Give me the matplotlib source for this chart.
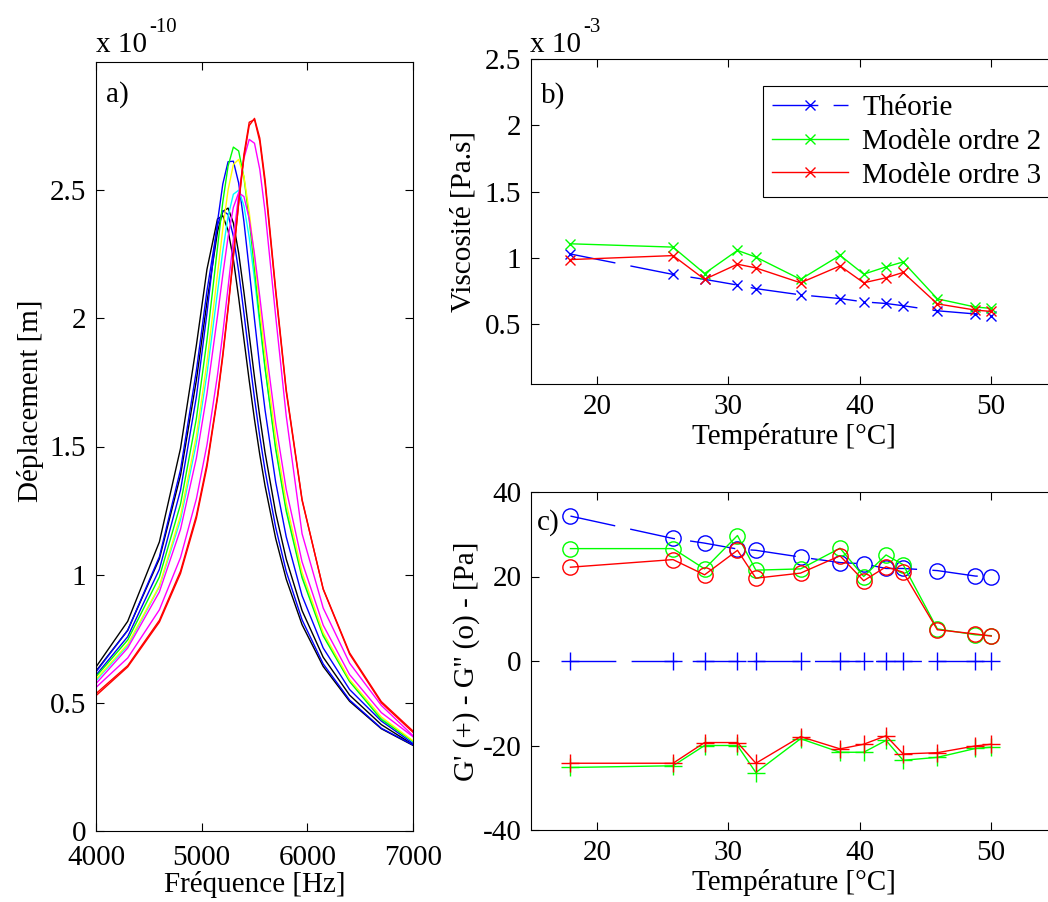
import matplotlib
matplotlib.use('Agg')
import matplotlib.pyplot as plt

plt.rcParams['font.family'] = ['Liberation Serif', 'DejaVu Serif']
plt.rcParams['axes.linewidth'] = 0.8
plt.rcParams['axes.unicode_minus'] = False

# a) resonance curves, displacement in 1e-10 m
freq = [4000, 4300, 4600, 4800, 4950, 5050, 5150, 5200, 5250, 5300, 5350, 5400,
        5450, 5500, 5550, 5600, 5700, 5800, 5950, 6150, 6400, 6700, 7000]
disp_k1 = [0.624, 0.783, 1.062, 1.388, 1.759, 2.063, 2.338, 2.417, 2.430, 2.372, 2.255, 2.102,
           1.935, 1.770, 1.616, 1.476, 1.242, 1.061, 0.860, 0.678, 0.530, 0.415, 0.337]
disp_k2 = [0.640, 0.818, 1.128, 1.493, 1.895, 2.191, 2.388, 2.400, 2.343, 2.230, 2.081, 1.918,
           1.757, 1.605, 1.468, 1.346, 1.142, 0.983, 0.805, 0.642, 0.506, 0.399, 0.334]
disp_b1 = [0.608, 0.758, 1.021, 1.330, 1.694, 2.020, 2.377, 2.524, 2.611, 2.613, 2.528, 2.377,
           2.190, 1.996, 1.810, 1.642, 1.362, 1.148, 0.918, 0.714, 0.552, 0.429, 0.342]
disp_b2 = [0.621, 0.783, 1.070, 1.410, 1.796, 2.107, 2.364, 2.420, 2.405, 2.320, 2.183, 2.020,
           1.850, 1.688, 1.539, 1.406, 1.185, 1.013, 0.824, 0.652, 0.511, 0.401, 0.336]
disp_g = [0.602, 0.745, 0.991, 1.275, 1.609, 1.915, 2.277, 2.454, 2.594, 2.668, 2.653, 2.550,
          2.385, 2.191, 1.993, 1.807, 1.491, 1.248, 0.988, 0.761, 0.583, 0.435, 0.350]
disp_y = [0.592, 0.729, 0.956, 1.231, 1.542, 1.827, 2.173, 2.349, 2.501, 2.600, 2.620, 2.553,
          2.415, 2.235, 2.043, 1.856, 1.532, 1.280, 1.009, 0.774, 0.591, 0.445, 0.352]
disp_c = [0.587, 0.723, 0.953, 1.214, 1.514, 1.784, 2.103, 2.263, 2.398, 2.484, 2.500, 2.439,
          2.315, 2.153, 1.977, 1.804, 1.499, 1.258, 0.996, 0.766, 0.586, 0.440, 0.348]
disp_m2 = [0.575, 0.714, 0.933, 1.177, 1.455, 1.706, 2.010, 2.170, 2.318, 2.433, 2.490, 2.475,
           2.389, 2.250, 2.084, 1.910, 1.591, 1.333, 1.050, 0.803, 0.610, 0.462, 0.368]
disp_m1 = [0.560, 0.675, 0.863, 1.067, 1.296, 1.506, 1.779, 1.942, 2.121, 2.307, 2.483, 2.624,
           2.698, 2.683, 2.581, 2.417, 2.010, 1.620, 1.160, 0.870, 0.655, 0.490, 0.372]
disp_r1 = [0.536, 0.645, 0.822, 1.014, 1.231, 1.432, 1.698, 1.861, 2.044, 2.244, 2.447, 2.629,
           2.752, 2.780, 2.703, 2.541, 2.116, 1.723, 1.294, 0.943, 0.690, 0.500, 0.385]
disp_r2 = [0.528, 0.640, 0.815, 1.005, 1.220, 1.420, 1.690, 1.850, 2.035, 2.240, 2.450, 2.640,
           2.765, 2.775, 2.690, 2.525, 2.105, 1.715, 1.290, 0.945, 0.695, 0.505, 0.390]

curves = [(disp_k2, 'k'), (disp_k1, 'k'), (disp_b2, '#0000ff'), (disp_b1, '#0000ff'),
          (disp_c, '#00ffff'), (disp_g, '#00ff00'), (disp_y, '#ffff00'),
          (disp_m2, '#ff00ff'), (disp_m1, '#ff00ff'), (disp_r2, '#ff0000'), (disp_r1, '#ff0000')]

# b) and c) versus temperature
temp = [18.0, 25.8, 28.2, 30.7, 32.1, 35.5, 38.5, 40.3, 42.0, 43.3, 45.9, 48.8, 50.0]
visc_theo = [1.030, 0.876, 0.839, 0.796, 0.769, 0.722, 0.694, 0.669, 0.657, 0.640, 0.602, 0.578, 0.565]
visc_o2 = [1.107, 1.082, 0.883, 1.057, 1.007, 0.839, 1.020, 0.878, 0.933, 0.970, 0.692, 0.630, 0.620]
visc_o3 = [0.988, 1.018, 0.839, 0.953, 0.925, 0.813, 0.940, 0.813, 0.851, 0.891, 0.654, 0.607, 0.597]

gp_theo = [34.3, 29.0, 27.9, 26.5, 26.2, 24.6, 23.3, 23.0, 21.9, 21.9, 21.4, 20.1, 20.0]
gp_o2 = [26.6, 26.6, 21.8, 29.7, 21.5, 21.8, 26.7, 20.0, 25.1, 22.8, 7.6, 6.2, 6.0]
gp_o3 = [22.2, 24.0, 20.4, 26.2, 19.6, 20.8, 24.9, 19.0, 22.3, 21.0, 7.4, 6.4, 5.9]
gpp_theo = [0, 0, 0, 0, 0, 0, 0, 0, 0, 0, 0, 0, 0]
gpp_o2 = [-25.2, -24.8, -20.0, -20.0, -26.4, -18.4, -21.6, -21.6, -18.8, -23.5, -22.8, -20.7, -20.4]
gpp_o3 = [-24.2, -24.2, -19.3, -19.3, -24.2, -17.9, -20.8, -19.7, -17.7, -22.0, -21.7, -20.1, -19.7]

W, H = 1048, 902
fs = 21
dash = (0, (33, 11))
blue, green, red = '#0000ff', '#00ff00', '#ff0000'

fig = plt.figure(figsize=(W / 100, H / 100), dpi=100)
axa = fig.add_axes([96 / W, (H - 831) / H, 317 / W, 769 / H])
axb = fig.add_axes([531 / W, (H - 384) / H, 526 / W, 325 / H])
axc = fig.add_axes([531 / W, (H - 830) / H, 526 / W, 338 / H])

for ax in (axa, axb, axc):
    ax.tick_params(direction='in', top=True, right=True, length=6, width=0.8,
                   labelsize=fs, pad=7)
axa.tick_params(axis='x', pad=10)

# panel a
for vals, col in curves:
    axa.plot(freq, vals, color=col, lw=1.0)
axa.set_xlim(4000, 7000)
axa.set_ylim(0, 3.0)
axa.set_xticks([4000, 5000, 6000, 7000])
axa.set_yticks([0, 0.5, 1, 1.5, 2, 2.5])
axa.set_yticklabels(['0', '0.5', '1', '1.5', '2', '2.5'])
axa.set_xlabel('Fréquence [Hz]', fontsize=fs, labelpad=0)
axa.set_ylabel('Déplacement [m]', fontsize=fs)
axa.yaxis.set_label_coords(-0.165, 0.56)
axa.text(0.03, 0.975, 'a)', transform=axa.transAxes, fontsize=fs, va='top')
fig.text(96 / W, 1 - 52 / H, 'x 10', fontsize=fs, va='baseline')
fig.text(149 / W, 1 - 32 / H, '-10', fontsize=15, va='baseline')

# panel b
axb.plot(temp, visc_theo, color=blue, marker='x', ms=7, lw=1.0, ls=dash, label='Théorie')
axb.plot(temp, visc_o2, color=green, marker='x', ms=7, lw=1.0, label='Modèle ordre 2')
axb.plot(temp, visc_o3, color=red, marker='x', ms=7, lw=1.0, label='Modèle ordre 3')
axb.set_xlim(15, 55)
axb.set_ylim(0.05, 2.5)
axb.set_xticks([20, 30, 40, 50])
axb.set_yticks([0.5, 1, 1.5, 2, 2.5])
axb.set_yticklabels(['0.5', '1', '1.5', '2', '2.5'])
axb.set_xlabel('Température [°C]', fontsize=fs, labelpad=2)
axb.set_ylabel('Viscosité [Pa.s]', fontsize=fs, labelpad=6)
axb.text(0.018, 0.93, 'b)', transform=axb.transAxes, fontsize=fs, va='top')
fig.text(530 / W, 1 - 52 / H, 'x 10', fontsize=fs, va='baseline')
fig.text(583 / W, 1 - 32 / H, '-3', fontsize=15, va='baseline')
leg = axb.legend(loc='upper left', bbox_to_anchor=(763 / W, 1 - 86 / H),
                 bbox_transform=fig.transFigure, fontsize=fs, frameon=True,
                 fancybox=False, edgecolor='black', framealpha=1,
                 handlelength=2.6, handletextpad=0.5, borderpad=0.3,
                 labelspacing=0.25, borderaxespad=0)
leg.get_frame().set_linewidth(0.8)

# panel c
axc.plot(temp, gp_theo, color=blue, marker='o', ms=11, mfc='none', lw=1.0, ls=dash)
axc.plot(temp, gp_o2, color=green, marker='o', ms=11, mfc='none', lw=1.0)
axc.plot(temp, gp_o3, color=red, marker='o', ms=11, mfc='none', lw=1.0)
axc.plot(temp, gpp_theo, color=blue, marker='+', ms=13, lw=1.0, ls=dash)
axc.plot(temp, gpp_o2, color=green, marker='+', ms=13, lw=1.0)
axc.plot(temp, gpp_o3, color=red, marker='+', ms=13, lw=1.0)
axc.set_xlim(15, 55)
axc.set_ylim(-40, 40)
axc.set_xticks([20, 30, 40, 50])
axc.set_yticks([-40, -20, 0, 20, 40])
axc.set_xlabel('Température [°C]', fontsize=fs, labelpad=2)
axc.set_ylabel("G' (+) - G'' (o) - [Pa]", fontsize=fs, labelpad=2)
axc.text(0.012, 0.95, 'c)', transform=axc.transAxes, fontsize=fs, va='top')

fig.savefig('out.png', dpi=100)
